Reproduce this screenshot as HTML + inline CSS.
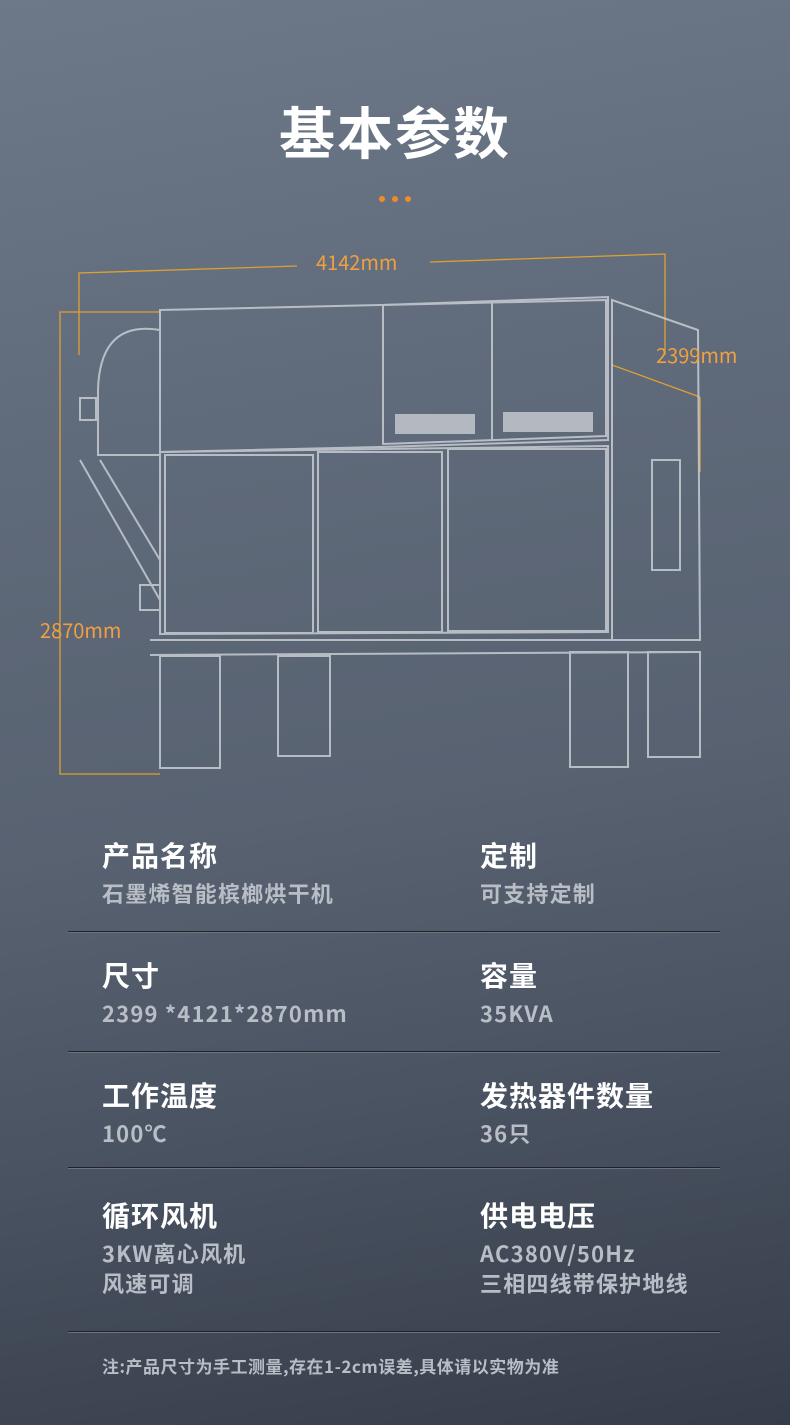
<!DOCTYPE html>
<html><head><meta charset="utf-8"><style>
html,body{margin:0;padding:0}
body{width:790px;height:1425px;position:relative;overflow:hidden;
background:linear-gradient(170deg,#6d7888 0%,#5f6a7a 30%,#586271 55%,#4a5362 75%,#363d4a 100%);
font-family:"Noto Sans CJK SC","Liberation Sans",sans-serif;}
.t{position:absolute;white-space:nowrap;line-height:1}
.h{font-size:28px;font-weight:bold;color:#fff;letter-spacing:1px}
.v{font-size:22px;color:#b9bec6;font-weight:bold;letter-spacing:1.2px}
.line{position:absolute;left:68px;width:652px;height:1px;background:#1f242c;border-bottom:1px solid #6b7380}
</style></head><body>
<div class="t" style="left:0;width:790px;text-align:center;top:103px;font-size:56px;font-weight:bold;color:#fff;letter-spacing:2px">基本参数</div>
<div style="position:absolute;left:379px;top:196px;width:6px;height:6px;border-radius:3px;background:#f08a2a"></div>
<div style="position:absolute;left:392px;top:196px;width:6px;height:6px;border-radius:3px;background:#f08a2a"></div>
<div style="position:absolute;left:405px;top:196px;width:6px;height:6px;border-radius:3px;background:#f08a2a"></div>

<svg width="790" height="800" style="position:absolute;left:0;top:0" fill="none">
<g stroke="#e0a030" stroke-width="1.3">
<polyline points="79,355 79,273 297,266"/>
<polyline points="430,262 665,254 665,355"/>
<polyline points="160,312 60,312 60,774 160,774"/>
<line x1="612" y1="365" x2="700" y2="397"/>
<line x1="700" y1="397" x2="700" y2="472"/>
</g>
<g stroke="#c8ccd3" stroke-width="2" opacity="0.85">
<polygon points="160,310 380,305 608,297 608,440 380,447 160,452"/>
<polygon points="383,305 606,300 606,436 383,444"/>
<line x1="492" y1="302" x2="492" y2="440"/>
<path d="M160,330 Q100,320 98,390 L98,455 L160,455"/>
<rect x="80" y="398" width="16" height="22"/>
<polygon points="160,452 608,446 608,632 160,634"/>
<rect x="165" y="455" width="148" height="178"/>
<rect x="318" y="452" width="124" height="180"/>
<rect x="448" y="449" width="158" height="182"/>
<polygon points="612,300 698,330 700,640 612,640"/>
<rect x="652" y="460" width="28" height="110"/>
<line x1="80" y1="460" x2="160" y2="600"/>
<line x1="100" y1="460" x2="160" y2="560"/>
<rect x="140" y="585" width="20" height="25"/>
<line x1="150" y1="640" x2="700" y2="640"/>
<line x1="150" y1="655" x2="700" y2="652"/>
<rect x="160" y="656" width="60" height="112"/>
<rect x="278" y="656" width="52" height="100"/>
<rect x="570" y="652" width="58" height="115"/>
<rect x="648" y="652" width="52" height="105"/>
</g>
<g fill="#d8dbe0" opacity="0.7">
<rect x="395" y="414" width="80" height="20"/>
<rect x="503" y="412" width="90" height="20"/>
</g>
<g fill="#f0a040" font-size="20" font-family="Noto Sans CJK SC,sans-serif">
<text x="316" y="270">4142mm</text>
<text x="656" y="363">2399mm</text>
<text x="40" y="638">2870mm</text>
</g>
</svg>

<div class="t h" style="left:102px;top:841px">产品名称</div>
<div class="t v" style="left:102px;top:882px">石墨烯智能槟榔烘干机</div>
<div class="t h" style="left:480px;top:841px">定制</div>
<div class="t v" style="left:480px;top:882px">可支持定制</div>
<div class="line" style="top:931px"></div>

<div class="t h" style="left:102px;top:961px">尺寸</div>
<div class="t v" style="left:102px;top:1002px">2399 *4121*2870mm</div>
<div class="t h" style="left:480px;top:961px">容量</div>
<div class="t v" style="left:480px;top:1002px">35KVA</div>
<div class="line" style="top:1051px"></div>

<div class="t h" style="left:102px;top:1081px">工作温度</div>
<div class="t v" style="left:102px;top:1122px">100℃</div>
<div class="t h" style="left:480px;top:1081px">发热器件数量</div>
<div class="t v" style="left:480px;top:1122px">36只</div>
<div class="line" style="top:1167px"></div>

<div class="t h" style="left:102px;top:1201px">循环风机</div>
<div class="t v" style="left:102px;top:1242px">3KW离心风机</div>
<div class="t v" style="left:102px;top:1272px">风速可调</div>
<div class="t h" style="left:480px;top:1201px">供电电压</div>
<div class="t v" style="left:480px;top:1242px">AC380V/50Hz</div>
<div class="t v" style="left:480px;top:1272px">三相四线带保护地线</div>
<div class="line" style="top:1331px"></div>

<div class="t" style="left:102px;top:1357px;font-size:17px;color:#b9bec6;font-weight:bold;letter-spacing:0.5px">注:产品尺寸为手工测量,存在1-2cm误差,具体请以实物为准</div>
</body></html>
